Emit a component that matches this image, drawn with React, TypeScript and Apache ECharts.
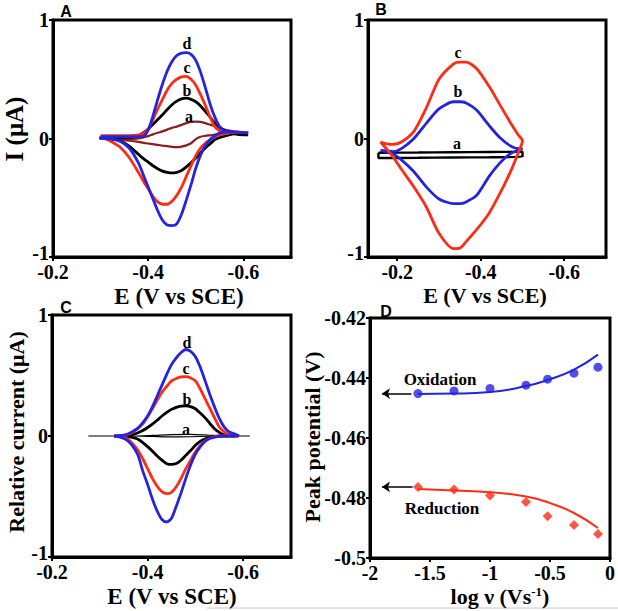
import React, { useEffect, useRef } from "react";
import * as echarts from "echarts";

// ---------- Panel A : CVs (E in V vs SCE, I in µA) ----------
const aPotential = [-0.30, -0.32, -0.34, -0.36, -0.38, -0.39, -0.40, -0.41, -0.42, -0.43, -0.44, -0.45, -0.46, -0.47, -0.48, -0.49, -0.50, -0.51, -0.52, -0.53, -0.54, -0.55, -0.56, -0.58, -0.60, -0.61];
const aCurveA_up = [0.005, 0.0, -0.005, -0.005, 0.0, 0.01, 0.02, 0.035, 0.048, 0.06, 0.075, 0.09, 0.10, 0.115, 0.13, 0.14, 0.143, 0.14, 0.13, 0.117, 0.104, 0.09, 0.076, 0.06, 0.053, 0.053];
const aCurveA_down = [0.005, -0.005, -0.01, -0.018, -0.028, -0.037, -0.042, -0.048, -0.054, -0.06, -0.065, -0.07, -0.073, -0.068, -0.058, -0.04, -0.005, 0.015, 0.022, 0.027, 0.032, 0.037, 0.042, 0.05, 0.053, 0.053];
const aCurveB_up = [0.01, 0.01, 0.01, 0.01, 0.025, 0.05, 0.08, 0.12, 0.16, 0.20, 0.245, 0.285, 0.315, 0.335, 0.34, 0.33, 0.31, 0.275, 0.23, 0.18, 0.13, 0.095, 0.07, 0.04, 0.03, 0.03];
const aCurveB_down = [0.0, -0.003, -0.02, -0.065, -0.135, -0.17, -0.20, -0.23, -0.255, -0.275, -0.285, -0.29, -0.285, -0.27, -0.24, -0.205, -0.165, -0.12, -0.08, -0.045, -0.01, 0.008, 0.02, 0.04, 0.03, 0.03];
const aCurveC_up = [0.025, 0.025, 0.025, 0.025, 0.03, 0.045, 0.08, 0.16, 0.25, 0.33, 0.41, 0.465, 0.50, 0.52, 0.525, 0.50, 0.45, 0.37, 0.28, 0.18, 0.10, 0.065, 0.05, 0.05, 0.05, 0.05];
const aCurveC_down = [0.02, -0.02, -0.07, -0.16, -0.29, -0.36, -0.425, -0.49, -0.535, -0.555, -0.555, -0.53, -0.48, -0.41, -0.32, -0.23, -0.145, -0.08, -0.04, -0.01, 0.015, 0.03, 0.04, 0.05, 0.05, 0.05];
const aCurveD_up = [0.015, 0.015, 0.015, 0.015, 0.015, 0.02, 0.07, 0.19, 0.33, 0.46, 0.57, 0.65, 0.70, 0.72, 0.725, 0.71, 0.66, 0.56, 0.43, 0.29, 0.18, 0.10, 0.065, 0.055, 0.05, 0.045];
const aCurveD_down = [0.0, -0.003, -0.02, -0.08, -0.21, -0.31, -0.41, -0.51, -0.61, -0.69, -0.73, -0.735, -0.72, -0.64, -0.52, -0.39, -0.25, -0.14, -0.06, -0.01, 0.025, 0.045, 0.055, 0.055, 0.05, 0.045];

// ---------- Panel B ----------
const bPotential = [-0.16, -0.175, -0.19, -0.21, -0.24, -0.27, -0.30, -0.335, -0.35, -0.365, -0.39, -0.42, -0.445, -0.47, -0.49, -0.50];
const bCurveB_up = [-0.10, -0.105, -0.11, -0.085, 0.0, 0.13, 0.25, 0.31, 0.31, 0.30, 0.24, 0.11, 0.01, -0.06, -0.085, -0.085];
const bCurveB_down = [-0.10, -0.11, -0.13, -0.18, -0.28, -0.41, -0.51, -0.55, -0.55, -0.535, -0.48, -0.32, -0.21, -0.13, -0.10, -0.085];
const bCurveC_up = [-0.03, -0.045, -0.05, -0.03, 0.06, 0.26, 0.50, 0.63, 0.645, 0.645, 0.59, 0.44, 0.29, 0.14, 0.03, -0.02];
const bCurveC_down = [-0.03, -0.09, -0.155, -0.26, -0.41, -0.58, -0.80, -0.93, -0.925, -0.87, -0.77, -0.63, -0.47, -0.29, -0.12, -0.02];
const bBlankPotential = [-0.155, -0.25, -0.33, -0.42, -0.50];
const bCurveA_up = [-0.12, -0.118, -0.116, -0.114, -0.112];
const bCurveA_down = [-0.165, -0.163, -0.16, -0.158, -0.155];

// ---------- Panel C : relative currents ----------
const cPotential = [-0.33, -0.35, -0.36, -0.37, -0.38, -0.39, -0.40, -0.41, -0.42, -0.43, -0.44, -0.45, -0.46, -0.47, -0.48, -0.49, -0.50, -0.51, -0.52, -0.53, -0.54, -0.55, -0.56, -0.57, -0.59];
const cCurveD_up = [0.0, 0.008, 0.019, 0.04, 0.065, 0.11, 0.165, 0.24, 0.33, 0.42, 0.51, 0.59, 0.645, 0.69, 0.715, 0.70, 0.655, 0.57, 0.46, 0.345, 0.24, 0.145, 0.075, 0.035, 0.003];
const cCurveD_down = [0.0, -0.02, -0.045, -0.09, -0.16, -0.29, -0.40, -0.52, -0.62, -0.69, -0.71, -0.68, -0.58, -0.47, -0.35, -0.24, -0.15, -0.09, -0.045, -0.02, -0.01, -0.004, 0.0, 0.0, 0.0];
const cCurveC_up = [0.0, 0.005, 0.015, 0.035, 0.065, 0.10, 0.16, 0.225, 0.295, 0.36, 0.41, 0.455, 0.475, 0.488, 0.49, 0.48, 0.455, 0.39, 0.31, 0.23, 0.15, 0.075, 0.035, 0.012, 0.0];
const cCurveC_down = [0.0, -0.01, -0.03, -0.07, -0.12, -0.19, -0.27, -0.35, -0.415, -0.46, -0.477, -0.465, -0.42, -0.35, -0.27, -0.20, -0.13, -0.08, -0.04, -0.018, -0.005, 0.0, 0.0, 0.0, 0.0];
const cCurveB_up = [0.0, 0.0, 0.005, 0.013, 0.027, 0.045, 0.07, 0.098, 0.13, 0.165, 0.195, 0.22, 0.237, 0.247, 0.25, 0.243, 0.225, 0.19, 0.152, 0.105, 0.06, 0.03, 0.01, 0.003, 0.0];
const cCurveB_down = [0.0, 0.0, -0.005, -0.013, -0.026, -0.055, -0.088, -0.125, -0.165, -0.2, -0.229, -0.235, -0.228, -0.2, -0.16, -0.12, -0.077, -0.045, -0.025, -0.012, -0.005, 0.0, 0.0, 0.0, 0.0];
const cBlankPotential = [-0.276, -0.37, -0.41, -0.45, -0.49, -0.53, -0.57, -0.614];
const cCurveA_up = [0.0, 0.0, 0.005, 0.012, 0.014, 0.006, 0.0, 0.0];
const cCurveA_down = [0.0, 0.0, -0.004, -0.008, -0.006, -0.002, 0.0, 0.0];

// ---------- Panel D : peak potential vs log scan rate ----------
const dLogRate = [-1.6, -1.3, -1.0, -0.7, -0.52, -0.3, -0.1];
const dOxidation = [-0.4452, -0.4443, -0.4435, -0.4424, -0.4404, -0.4384, -0.4364];
const dReduction = [-0.4763, -0.4772, -0.4792, -0.4813, -0.4861, -0.489, -0.492];
const dFitLogRate = [-1.6, -1.3, -1.0, -0.7, -0.5, -0.3, -0.1];
const dOxidationFit = [-0.4453, -0.4452, -0.4447, -0.4427, -0.4404, -0.4372, -0.4322];
const dReductionFit = [-0.477, -0.4775, -0.4781, -0.4795, -0.4817, -0.485, -0.49];

const cvTicks = [-0.2, -0.4, -0.6];
const iTicks = [-1, 0, 1];

const BLUE = "#2424e0";
const RED = "#ff2c14";
const BROWN = "#8a1e1e";
const BLACK = "#000000";
const SERIF = "'Liberation Serif', 'Times New Roman', serif";
const SANS = "'Liberation Sans', Arial, sans-serif";

function loop(pot: number[], up: number[], down: number[]) {
  const fwd = pot.map((e, i) => [e, up[i]]);
  const back = pot.map((e, i) => [e, down[i]]).reverse();
  return [...fwd, ...back, fwd[0]];
}

function cvSeries(idx: number, pot: number[], up: number[], down: number[], color: string, width = 2.8) {
  return {
    type: "line",
    xAxisIndex: idx,
    yAxisIndex: idx,
    data: loop(pot, up, down),
    showSymbol: false,
    symbol: "none",
    smooth: 0.25,
    lineStyle: { color, width },
    z: 3,
  };
}

const tickLabel = { fontFamily: SERIF, fontWeight: "bold", fontSize: 20, color: BLACK, lineHeight: 14 };
const xLabel = { ...tickLabel, margin: 8 };
const yLabel = { ...tickLabel, margin: 4 };
const liftRich = { lo: { fontFamily: SERIF, fontWeight: "bold", fontSize: 20, color: BLACK, lineHeight: 14, padding: [0, 0, 8, 0] } };

function cvXAxis(idx: number, max: number) {
  return {
    type: "value",
    gridIndex: idx,
    min: -0.7,
    max,
    inverse: true,
    axisLine: { show: true, onZero: false, lineStyle: { color: BLACK, width: 3 } },
    axisTick: { show: true, customValues: cvTicks, length: 4, lineStyle: { color: BLACK, width: 2 } },
    axisLabel: { ...xLabel, customValues: cvTicks },
    splitLine: { show: false },
  };
}
function cvYAxis(idx: number) {
  return {
    type: "value",
    gridIndex: idx,
    min: -1,
    max: 1,
    axisLine: { show: true, onZero: false, lineStyle: { color: BLACK, width: 3 } },
    axisTick: { show: true, customValues: iTicks, length: 4, lineStyle: { color: BLACK, width: 2 } },
    axisLabel: {
      ...yLabel,
      customValues: iTicks,
      formatter: (v: number) => (v === -1 ? "{lo|-1}" : String(v)),
      rich: liftRich,
    },
    splitLine: { show: false },
  };
}

function txt(x: number, y: number, text: string, font: string, extra: any = {}) {
  return {
    type: "text",
    x,
    y,
    z: 10,
    ...extra,
    style: {
      text,
      font,
      fill: BLACK,
      textAlign: "center",
      textVerticalAlign: "middle",
      align: "center",
      verticalAlign: "middle",
      ...(extra.style || {}),
    },
  };
}

export default function App() {
  const ref = useRef<HTMLDivElement>(null);
  useEffect(() => {
    document.body.style.margin = "0";
    if (!ref.current) return;
    const chart = echarts.init(ref.current, null, { renderer: "svg" });
    const gridBase = { show: true, borderColor: BLACK, borderWidth: 3, backgroundColor: "transparent", containLabel: false };
    const labelFont = `bold 16px ${SERIF}`;
    const titleFont = `bold 23px ${SERIF}`;
    const panelFont = `bold 16px ${SANS}`;
    const option: any = {
      animation: false,
      backgroundColor: "#ffffff",
      grid: [
        { ...gridBase, left: 53, top: 20, width: 238, height: 237 },
        { ...gridBase, left: 368, top: 20, width: 238, height: 237 },
        { ...gridBase, left: 52, top: 315, width: 239, height: 242 },
        { ...gridBase, left: 370, top: 318, width: 242, height: 240 },
      ],
      xAxis: [
        cvXAxis(0, -0.2),
        cvXAxis(1, -0.13),
        cvXAxis(2, -0.2),
        {
          type: "value",
          gridIndex: 3,
          min: -2,
          max: 0,
          interval: 0.5,
          axisLine: { show: true, onZero: false, lineStyle: { color: BLACK, width: 3 } },
          axisTick: { show: true, length: 4, lineStyle: { color: BLACK, width: 2 } },
          axisLabel: { ...xLabel },
          splitLine: { show: false },
        },
      ],
      yAxis: [
        cvYAxis(0),
        cvYAxis(1),
        cvYAxis(2),
        {
          type: "value",
          gridIndex: 3,
          min: -0.5,
          max: -0.42,
          interval: 0.02,
          axisLine: { show: true, onZero: false, lineStyle: { color: BLACK, width: 3 } },
          axisTick: { show: true, length: 4, lineStyle: { color: BLACK, width: 2 } },
          axisLabel: { ...yLabel },
          splitLine: { show: false },
        },
      ],
      series: [
        cvSeries(0, aPotential, aCurveA_up, aCurveA_down, BROWN, 2.2),
        cvSeries(0, aPotential, aCurveB_up, aCurveB_down, BLACK),
        cvSeries(0, aPotential, aCurveC_up, aCurveC_down, RED),
        cvSeries(0, aPotential, aCurveD_up, aCurveD_down, BLUE),
        cvSeries(1, bBlankPotential, bCurveA_up, bCurveA_down, BLACK, 2.4),
        cvSeries(1, bPotential, bCurveB_up, bCurveB_down, BLUE),
        cvSeries(1, bPotential, bCurveC_up, bCurveC_down, RED),
        cvSeries(2, cBlankPotential, cCurveA_up, cCurveA_down, BLACK, 1.2),
        cvSeries(2, cPotential, cCurveB_up, cCurveB_down, BLACK),
        cvSeries(2, cPotential, cCurveC_up, cCurveC_down, RED),
        cvSeries(2, cPotential, cCurveD_up, cCurveD_down, BLUE),
        {
          type: "line",
          xAxisIndex: 3,
          yAxisIndex: 3,
          data: dFitLogRate.map((x, i) => [x, dOxidationFit[i]]),
          showSymbol: false,
          symbol: "none",
          smooth: true,
          lineStyle: { color: BLUE, width: 2 },
        },
        {
          type: "line",
          xAxisIndex: 3,
          yAxisIndex: 3,
          data: dFitLogRate.map((x, i) => [x, dReductionFit[i]]),
          showSymbol: false,
          symbol: "none",
          smooth: true,
          lineStyle: { color: RED, width: 2 },
        },
        {
          type: "scatter",
          xAxisIndex: 3,
          yAxisIndex: 3,
          data: dLogRate.map((x, i) => [x, dOxidation[i]]),
          symbol: "circle",
          symbolSize: 9,
          itemStyle: { color: BLUE },
          markLine: {
            silent: true,
            symbol: ["none", "arrow"],
            symbolSize: 8,
            label: { show: false },
            lineStyle: { color: BLACK, width: 1.5, type: "solid" },
            data: [
              [{ coord: [-1.655, dOxidation[0]] }, { coord: [-1.9, dOxidation[0]] }],
              [{ coord: [-1.645, dReduction[0]] }, { coord: [-1.9, dReduction[0]] }],
            ],
          },
        },
        {
          type: "scatter",
          xAxisIndex: 3,
          yAxisIndex: 3,
          data: dLogRate.map((x, i) => [x, dReduction[i]]),
          symbol: "diamond",
          symbolSize: 10,
          itemStyle: { color: RED },
        },
      ],
      graphic: [
        // panel letters
        txt(66, 11, "A", panelFont),
        txt(381, 9, "B", panelFont),
        txt(66, 307, "C", panelFont),
        txt(386, 311, "D", panelFont),
        // curve labels A
        txt(187, 43, "d", labelFont),
        txt(187, 67, "c", labelFont),
        txt(187, 90, "b", labelFont),
        txt(189, 116, "a", labelFont),
        // curve labels B
        txt(458, 52, "c", labelFont),
        txt(458, 91, "b", labelFont),
        txt(457, 143, "a", labelFont),
        // curve labels C
        txt(187, 342, "d", labelFont),
        txt(186, 368, "c", labelFont),
        txt(187, 399, "b", labelFont),
        txt(186, 429, "a", labelFont),
        // axis titles
        txt(179, 296, "E (V vs SCE)", titleFont),
        txt(485, 295, "E (V vs SCE)", `bold 22px ${SERIF}`),
        txt(172, 596, "E (V vs SCE)", titleFont),
        {
          type: "text",
          x: 500,
          y: 596,
          z: 10,
          style: {
            text: "log ν (Vs{sup|-1})",
            font: `bold 22px ${SERIF}`,
            fill: BLACK,
            textAlign: "center",
            textVerticalAlign: "middle",
            align: "center",
            verticalAlign: "middle",
            rich: {
              sup: { font: `bold 13px ${SERIF}`, fill: BLACK, verticalAlign: "top", padding: [0, 0, 10, 0] },
            },
          },
        },
        txt(14, 129, "I (μA)", `bold 25px ${SERIF}`, { rotation: Math.PI / 2 }),
        txt(16, 432, "Relative current (μA)", `bold 22px ${SERIF}`, { rotation: Math.PI / 2 }),
        txt(312, 437, "Peak potential (V)", `bold 22px ${SERIF}`, { rotation: Math.PI / 2 }),
        // annotations in D
        txt(440, 379, "Oxidation", `bold 17px ${SERIF}`),
        txt(442, 508, "Reduction", `bold 17px ${SERIF}`),
        // faint rule at the bottom
        { type: "line", shape: { x1: 207, y1: 608, x2: 618, y2: 608 }, style: { stroke: "#c8c8c8", lineWidth: 1 } },
      ],
    };
    chart.setOption(option);
    return () => chart.dispose();
  }, []);
  return <div ref={ref} style={{ width: 618, height: 611 }} />;
}
